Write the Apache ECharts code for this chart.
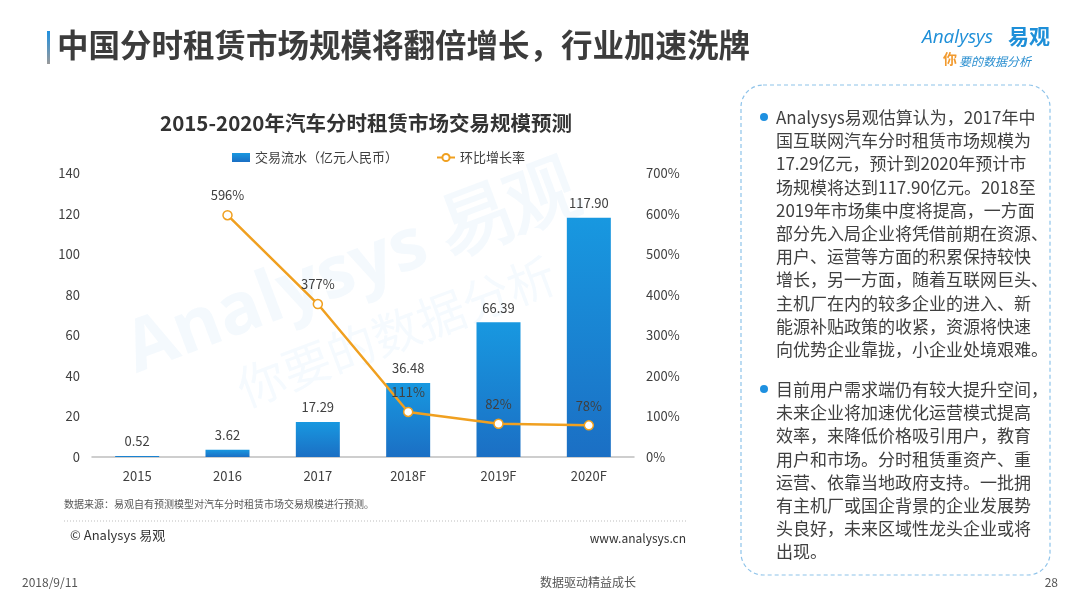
<!DOCTYPE html>
<html>
<head>
<meta charset="utf-8">
<script src="https://cdn.jsdelivr.net/npm/echarts@6/dist/echarts.min.js"></script>
<style>
  html, body { margin: 0; padding: 0; background: #fff; }
  #chart { width: 1080px; height: 608px; }
</style>
</head>
<body>
<div id="chart"></div>
<script>
// 数据
const years = ['2015', '2016', '2017', '2018F', '2019F', '2020F'];
const volume = [0.52, 3.62, 17.29, 36.48, 66.39, 117.90];
const growth = [null, 596, 377, 111, 82, 78];

const leftTicks = [0, 20, 40, 60, 80, 100, 120, 140];
const rightTicks = [0, 100, 200, 300, 400, 500, 600, 700];

const para1 = [
    'Analysys易观估算认为，2017年中',
    '国互联网汽车分时租赁市场规模为',
    '17.29亿元，预计到2020年预计市',
    '场规模将达到117.90亿元。2018至',
    '2019年市场集中度将提高，一方面',
    '部分先入局企业将凭借前期在资源、',
    '用户、运营等方面的积累保持较快',
    '增长，另一方面，随着互联网巨头、',
    '主机厂在内的较多企业的进入、新',
    '能源补贴政策的收紧，资源将快速',
    '向优势企业靠拢，小企业处境艰难。'
];
const para2 = [
    '目前用户需求端仍有较大提升空间，',
    '未来企业将加速优化运营模式提高',
    '效率，来降低价格吸引用户，教育',
    '用户和市场。分时租赁重资产、重',
    '运营、依靠当地政府支持。一批拥',
    '有主机厂或国企背景的企业发展势',
    '头良好，未来区域性龙头企业或将',
    '出现。'
];

const FONT = '"Noto Sans CJK SC", "Noto Sans", sans-serif';
const TXT = '#404040';
const ORANGE = '#F0A020';

const chart = echarts.init(document.getElementById('chart'));

const option = {
    backgroundColor: '#ffffff',
    textStyle: { fontFamily: FONT },
    title: {
        text: '2015-2020年汽车分时租赁市场交易规模预测',
        left: 361,
        textAlign: 'center',
        top: 108,
        textStyle: { fontSize: 20.5, fontWeight: 'bold', color: '#333', fontFamily: FONT }
    },
    legend: {
        left: 227,
        top: 146,
        itemGap: 38,
        itemWidth: 18,
        itemHeight: 9,
        textStyle: { fontSize: 13, color: TXT, fontFamily: FONT },
        data: [
            { name: '交易流水（亿元人民币）', icon: 'rect' },
            { name: '环比增长率' }
        ]
    },
    grid: { left: 92, right: 446, top: 173, bottom: 151, containLabel: false },
    xAxis: {
        type: 'category',
        data: years,
        axisLine: { lineStyle: { color: '#bfbfbf', width: 1.5 } },
        axisTick: { show: false },
        axisLabel: { color: TXT, fontSize: 13, margin: 13, fontFamily: FONT }
    },
    yAxis: [
        {
            type: 'value',
            min: leftTicks[0],
            max: leftTicks[leftTicks.length - 1],
            interval: 20,
            splitLine: { show: false },
            axisLine: { show: false },
            axisTick: { show: false },
            axisLabel: { color: TXT, fontSize: 13, margin: 12, fontFamily: FONT }
        },
        {
            type: 'value',
            min: rightTicks[0],
            max: rightTicks[rightTicks.length - 1],
            interval: 100,
            splitLine: { show: false },
            axisLine: { show: false },
            axisTick: { show: false },
            axisLabel: {
                color: TXT, fontSize: 13, margin: 12, fontFamily: FONT,
                formatter: '{value}%'
            }
        }
    ],
    series: [
        {
            name: '交易流水（亿元人民币）',
            type: 'bar',
            data: volume,
            barWidth: 44,
            itemStyle: {
                color: new echarts.graphic.LinearGradient(0, 0, 0, 1, [
                    { offset: 0, color: '#1898E0' },
                    { offset: 1, color: '#1B6FC4' }
                ])
            },
            label: {
                show: true,
                position: 'top',
                distance: 8,
                color: TXT,
                fontSize: 13,
                fontFamily: FONT,
                formatter: (p) => p.value.toFixed(2)
            },
            z: 2
        },
        {
            name: '环比增长率',
            type: 'line',
            yAxisIndex: 1,
            data: growth,
            symbol: 'circle',
            symbolSize: 9,
            lineStyle: { color: ORANGE, width: 2.5 },
            itemStyle: { color: '#ffffff', borderColor: ORANGE, borderWidth: 1.5 },
            label: {
                show: true,
                position: 'top',
                distance: 8,
                color: TXT,
                fontSize: 13,
                fontFamily: FONT,
                formatter: '{c}%'
            },
            z: 3
        }
    ],
    graphic: [
        // 页面标题
        {
            type: 'rect', left: 47, top: 31, shape: { width: 3, height: 33 },
            style: {
                fill: new echarts.graphic.LinearGradient(0, 0, 0, 1, [
                    { offset: 0, color: '#1E90E0' },
                    { offset: 1, color: '#9a9a9a' }
                ])
            }
        },
        {
            type: 'text', left: 57, top: 29,
            style: {
                text: '中国分时租赁市场规模将翻倍增长，行业加速洗牌',
                font: 'bold 31.5px ' + FONT, fill: '#3c3c3c'
            }
        },
        // logo
        {
            type: 'text', left: 922, top: 28,
            style: { text: 'Analysys', font: 'italic 19px "Open Sans", sans-serif', fill: '#1E8FD8' }
        },
        {
            type: 'text', left: 1008, top: 26,
            style: { text: '易观', font: 'bold 21px ' + FONT, fill: '#1E8FD8' }
        },
        {
            type: 'text', left: 943, top: 52,
            style: { text: '你', font: 'bold 14px ' + FONT, fill: '#F29A2E' }
        },
        {
            type: 'text', left: 959, top: 55,
            style: { text: '要的数据分析', font: 'italic 12px ' + FONT, fill: '#2B8FD0' }
        },
        // 水印
        {
            type: 'group', x: 330, y: 320, rotation: 0.36, silent: true, z: 0,
            children: [
                {
                    type: 'text', x: -200, y: -75,
                    style: { text: 'Analysys 易观', font: 'bold 72px "Open Sans", sans-serif', fill: 'rgba(30,144,224,0.05)' }
                },
                {
                    type: 'text', x: -110, y: 10,
                    style: { text: '你要的数据分析', font: '48px ' + FONT, fill: 'rgba(30,144,224,0.045)' }
                }
            ]
        },
        // 数据来源
        {
            type: 'text', left: 64, top: 499,
            style: { text: '数据来源：易观自有预测模型对汽车分时租赁市场交易规模进行预测。', font: '10px ' + FONT, fill: '#555' }
        },
        {
            type: 'line', shape: { x1: 64, y1: 521, x2: 688, y2: 521 },
            style: { stroke: '#bdbdbd', lineWidth: 1, lineDash: [1, 2] }
        },
        {
            type: 'text', left: 70, top: 529,
            style: { text: '© Analysys 易观', font: '13px ' + FONT, fill: '#333' }
        },
        {
            type: 'text', right: 394, top: 532,
            style: { text: 'www.analysys.cn', font: '12px ' + FONT, fill: '#333', align: 'right' }
        },
        // 右侧说明框
        {
            type: 'rect', shape: { x: 741, y: 85, width: 309, height: 490, r: 22 },
            style: { fill: 'none', stroke: '#8EC3EA', lineWidth: 1.2, lineDash: [4, 3] }
        },
        { type: 'circle', shape: { cx: 764, cy: 117, r: 4 }, style: { fill: '#1E90E0' } },
        { type: 'circle', shape: { cx: 764, cy: 389, r: 4 }, style: { fill: '#1E90E0' } },
        {
            type: 'text', left: 776, top: 106,
            style: { text: para1.join('\n'), font: '17px ' + FONT, fill: TXT, lineHeight: 23.2 }
        },
        {
            type: 'text', left: 776, top: 378,
            style: { text: para2.join('\n'), font: '17px ' + FONT, fill: TXT, lineHeight: 23.2 }
        },
        // 页脚
        {
            type: 'text', left: 22, top: 576,
            style: { text: '2018/9/11', font: '12px ' + FONT, fill: '#555' }
        },
        {
            type: 'text', left: 540, top: 576,
            style: { text: '数据驱动精益成长', font: '12px ' + FONT, fill: '#555', align: 'center' }
        },
        {
            type: 'text', right: 22, top: 576,
            style: { text: '28', font: '12px ' + FONT, fill: '#555', align: 'right' }
        }
    ]
};

chart.setOption(option);
</script>
</body>
</html>
